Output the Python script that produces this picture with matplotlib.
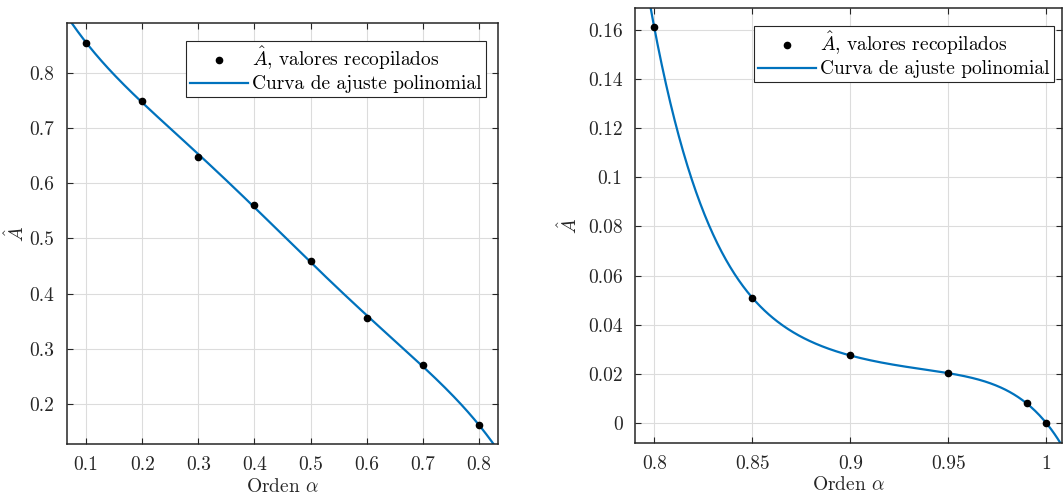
import numpy as np
import matplotlib
matplotlib.use("Agg")
import matplotlib.pyplot as plt

plt.rcParams["font.family"] = "serif"
plt.rcParams["font.serif"] = ["cmr10"]
plt.rcParams["mathtext.fontset"] = "cm"
plt.rcParams["axes.formatter.use_mathtext"] = True
plt.rcParams["font.size"] = 14

# orden alfa y valores de A gorro
alpha_1 = [0.1, 0.2, 0.3, 0.4, 0.5, 0.6, 0.7, 0.8]
A_1 = [0.855, 0.750, 0.647, 0.560, 0.460, 0.355, 0.271, 0.161]

alpha_2 = [0.80, 0.85, 0.90, 0.95, 0.99, 1.00]
A_2 = [0.161, 0.051, 0.0275, 0.0203, 0.008, 0.0]

color_ajuste = "#0072BD"
gris = "#262626"

fig = plt.figure(figsize=(10.63, 4.95), dpi=100)
ax1 = fig.add_axes([67/1063, 1 - 444/495, (498-67)/1063, (444-23)/495])
ax2 = fig.add_axes([635/1063, 1 - 443/495, (1062-635)/1063, (443-8)/495])


def dibujar(ax, x, y, grado, xlim, ylim, xticks, yticks, leg_box, ylab_x, xlab_y):
    ax.plot(x, y, "o", color="k", markersize=4.5, label=r"$\hat{A}$, valores recopilados", zorder=3)
    c = np.polyfit(x, y, grado)
    xx = np.linspace(xlim[0], xlim[1], 400)
    ax.plot(xx, np.polyval(c, xx), color=color_ajuste, lw=1.6, label="Curva de ajuste polinomial", zorder=2)
    ax.set_xlim(*xlim)
    ax.set_ylim(*ylim)
    ax.set_xticks(xticks)
    ax.set_yticks(yticks)
    ax.set_xticklabels([("%g" % t) for t in xticks])
    ax.set_yticklabels([("%g" % t) for t in yticks])
    ax.grid(True, color="#dcdcdc", lw=0.8)
    ax.set_axisbelow(True)
    ax.tick_params(direction="in", top=True, right=True, length=4, width=0.8,
                   colors=gris, labelsize=14, pad=9)
    for s in ax.spines.values():
        s.set_color(gris)
        s.set_linewidth(1.1)
    ax.set_xlabel(r"Orden $\alpha$", fontsize=14, color=gris)
    ax.set_ylabel(r"$\hat{A}$", fontsize=14, color=gris)
    ax.yaxis.set_label_coords(ylab_x, 0.5)
    ax.xaxis.set_label_coords(0.5, xlab_y)
    ax.yaxis.label.set_va("center")
    ax.xaxis.label.set_va("center")
    leg = ax.legend(loc="upper left", bbox_to_anchor=leg_box, bbox_transform=fig.transFigure,
                    fancybox=False, framealpha=1, edgecolor=gris, fontsize=14,
                    borderpad=0.2, handlelength=3.0, handletextpad=0.2, labelspacing=0.15,
                    borderaxespad=0, handleheight=0.7)
    leg.get_frame().set_linewidth(0.8)


dibujar(ax1, alpha_1, A_1, 5, (0.066, 0.834), (0.127, 0.891),
        [0.1, 0.2, 0.3, 0.4, 0.5, 0.6, 0.7, 0.8],
        [0.2, 0.3, 0.4, 0.5, 0.6, 0.7, 0.8],
        (186/1063, 1 - 41/495), -0.118, -0.102)
dibujar(ax2, alpha_2, A_2, 5, (0.7902, 1.008), (-0.0081, 0.1688),
        [0.8, 0.85, 0.9, 0.95, 1.0],
        [0, 0.02, 0.04, 0.06, 0.08, 0.1, 0.12, 0.14, 0.16],
        (754/1063, 1 - 26/495), -0.155, -0.097)

fig.savefig("out.png", dpi=100)
